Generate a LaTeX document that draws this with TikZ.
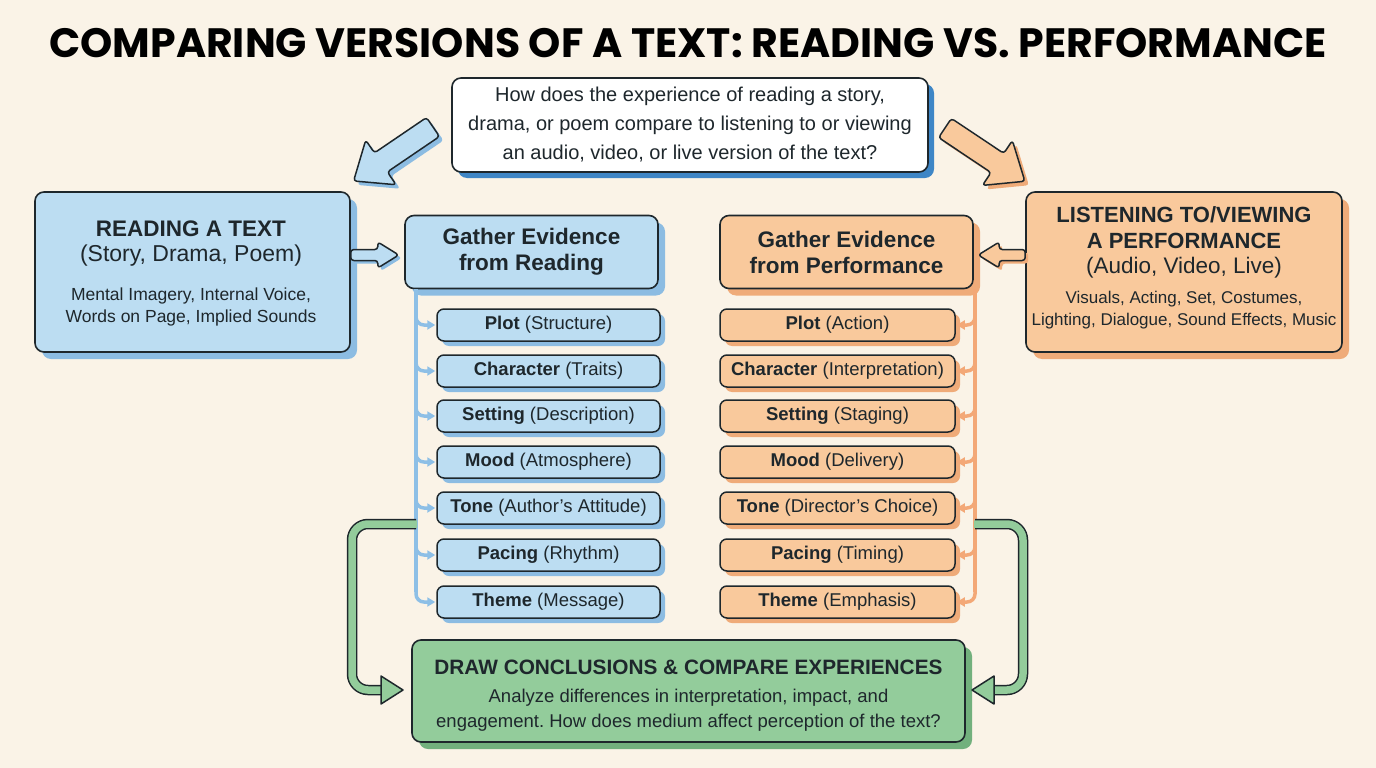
\documentclass[tikz,border=0pt]{standalone}
\usepackage{fontspec}
\setmainfont{Liberation Sans}
\newfontfamily\titlefont{Poppins}
\usetikzlibrary{shadows,arrows.meta}
\frenchspacing
\definecolor{bg}{HTML}{FAF3E7}
\definecolor{ink}{HTML}{1E272C}
\definecolor{bluefill}{HTML}{BCDDF2}
\definecolor{blueshadow}{HTML}{8CBCE2}
\definecolor{blueline}{HTML}{8DBFE6}
\definecolor{qshadow}{HTML}{3E86C6}
\definecolor{orfill}{HTML}{F9C99C}
\definecolor{orshadow}{HTML}{EFAB79}
\definecolor{orline}{HTML}{F3A877}
\definecolor{grfill}{HTML}{93CC9B}
\definecolor{grshadow}{HTML}{72B07D}
\tikzset{
  box/.style={draw=ink, line width=1.6pt, rounded corners=9pt, inner sep=0pt},
  bluebox/.style={box, fill=bluefill, drop shadow={shadow xshift=7pt, shadow yshift=-7pt, fill=blueshadow, opacity=1}},
  orbox/.style={box, fill=orfill, drop shadow={shadow xshift=7pt, shadow yshift=-7pt, fill=orshadow, opacity=1}},
  grbox/.style={box, fill=grfill, drop shadow={shadow xshift=7pt, shadow yshift=-7pt, fill=grshadow, opacity=1}},
  qbox/.style={box, fill=white, drop shadow={shadow xshift=6pt, shadow yshift=-6pt, fill=qshadow, opacity=1}},
  itemb/.style={draw=ink, line width=1.5pt, rounded corners=7pt, fill=bluefill, minimum width=223pt, minimum height=32pt, inner sep=0pt, font=\fontsize{18.5}{20}\selectfont, drop shadow={shadow xshift=5pt, shadow yshift=-5pt, fill=blueshadow, opacity=1}},
  itemo/.style={draw=ink, line width=1.5pt, rounded corners=7pt, fill=orfill, minimum width=235pt, minimum height=32pt, inner sep=0pt, font=\fontsize{18.5}{20}\selectfont, drop shadow={shadow xshift=5pt, shadow yshift=-5pt, fill=orshadow, opacity=1}},
  txt/.style={inner sep=0pt, align=center, text=ink},
  bline/.style={draw=blueline, line width=3.5pt, rounded corners=8pt},
  oline/.style={draw=orline, line width=3.5pt, rounded corners=8pt},
}
% block arrow: #1 start coordinate name, #2 angle, #3 length, #4 shaft half, #5 head half, #6 head length, #7 fill, #8 shadow colour, #9 shadow offset
\newcommand\blockarr[9]{%
  \begin{scope}[shift={([xshift=#9pt,yshift=-#9pt]#1)}, rotate=#2]
    \fill[#8, rounded corners=3pt] (0,-#4) -- (#3-#6,-#4) -- (#3-#6,-#5) -- (#3,0) -- (#3-#6,#5) -- (#3-#6,#4) -- (0,#4) -- cycle;
  \end{scope}
  \begin{scope}[shift={(#1)}, rotate=#2]
    \draw[draw=ink, line width=1.5pt, fill=#7, rounded corners=3pt, line join=round] (0,-#4) -- (#3-#6,-#4) -- (#3-#6,-#5) -- (#3,0) -- (#3-#6,#5) -- (#3-#6,#4) -- (0,#4) -- cycle;
  \end{scope}}
\begin{document}
\begin{tikzpicture}[x=1pt,y=-1pt]
\useasboundingbox[fill=bg] (0,0) rectangle (1376,768);

% title
\node[txt, text=black, font=\titlefont\bfseries\fontsize{41}{44}\selectfont] (title) at (688,43) {COMPARING VERSIONS OF A TEXT: READING VS. PERFORMANCE};

% question
\node[qbox, minimum width=476pt, minimum height=94pt] (q) at (690,125) {};
\node[txt, font=\fontsize{20}{29}\selectfont] (qt) at (q.center) {How does the experience of reading a story,\\drama, or poem compare to listening to or viewing\\an audio, video, or live version of the text?};

% left main box
\node[bluebox, minimum width=315pt, minimum height=160pt] (rd) at (192.5,272) {};
\node[txt, font=\bfseries\fontsize{22.5}{26}\selectfont] (rd1) at (191,229) {READING A TEXT};
\node[txt, font=\fontsize{23}{26}\selectfont] (rd2) at (191,256) {(Story, Drama, Poem)};
\node[txt, font=\fontsize{17.5}{22}\selectfont] (rd3) at (191,307) {Mental Imagery, Internal Voice,\\Words on Page, Implied Sounds};

% right main box
\node[orbox, minimum width=316pt, minimum height=160pt] (pf) at (1184,272) {};
\node[txt, font=\bfseries\fontsize{22}{26}\selectfont] (pf1) at (1184,228) {LISTENING TO/VIEWING\\A PERFORMANCE};
\node[txt, font=\fontsize{22.5}{26}\selectfont] (pf2) at (1184,268) {(Audio, Video, Live)};
\node[txt, font=\fontsize{17}{22}\selectfont] (pf3) at (1184,310) {Visuals, Acting, Set, Costumes,\\Lighting, Dialogue, Sound Effects, Music};

% diagonal block arrows (from question box to main boxes)
\coordinate (las) at (433,127);
\coordinate (ras) at (945,128);
\blockarr{las}{214.2}{96}{11.5}{27}{33}{bluefill}{blueshadow}{4}
\blockarr{ras}{-33.7}{96}{11.5}{27}{33}{orfill}{orshadow}{4}

% gather boxes
\node[bluebox, minimum width=253pt, minimum height=73pt, font=\bfseries\fontsize{22.5}{26}\selectfont, align=center, text=ink] (gr) at (531.5,252) {Gather Evidence\\from Reading};
\node[orbox, minimum width=253pt, minimum height=73pt, font=\bfseries\fontsize{22.5}{26}\selectfont, align=center, text=ink] (gp) at (846.5,252) {Gather Evidence\\from Performance};

% horizontal block arrows
\coordinate (has) at (rd.east |- 0,255);
\coordinate (hbs) at (pf.west |- 0,255);
\blockarr{has}{0}{48}{5.5}{13}{21}{bluefill}{blueshadow}{3}
\blockarr{hbs}{180}{47}{5.5}{13}{21}{orfill}{orshadow}{3}

% trunks
\coordinate (bt) at (416,289);
\coordinate (ot) at (975,289);
\draw[bline, rounded corners=0pt] (bt) -- (416,592);
\draw[oline, rounded corners=0pt] (ot) -- (975,592);

% green connectors (under items)
\coordinate (gl) at (416,524);
\coordinate (gr2) at (975,524);
\coordinate (glh) at (385,690);
\coordinate (grh) at (990,690);
\draw[draw=ink, line width=10.5pt, rounded corners=16pt] (gl) -- (352,524) -- (352,690) -- (glh);
\draw[draw=grfill, line width=7.5pt, rounded corners=16pt] ([xshift=1pt]gl) -- (352,524) -- (352,690) -- ([xshift=2pt]glh);
\draw[draw=ink, line width=10.5pt, rounded corners=16pt] (gr2) -- (1023,524) -- (1023,690) -- (grh);
\draw[draw=grfill, line width=7.5pt, rounded corners=16pt] ([xshift=-1pt]gr2) -- (1023,524) -- (1023,690) -- ([xshift=-2pt]grh);

% items
\foreach \i/\y/\bb/\br/\ob/\orr in {
 1/325/Plot/(Structure)/Plot/(Action),
 2/371/Character/(Traits)/Character/(Interpretation),
 3/416/Setting/(Description)/Setting/(Staging),
 4/462/Mood/(Atmosphere)/Mood/(Delivery),
 5/508/Tone/(Author’s Attitude)/Tone/(Director’s Choice),
 6/555/Pacing/(Rhythm)/Pacing/(Timing),
 7/602/Theme/(Message)/Theme/(Emphasis)}{
  \node[itemb, text=ink] (b\i) at (548.5,\y) {\textbf{\bb} \br};
  \node[itemo, text=ink] (o\i) at (837.5,\y) {\textbf{\ob} \orr};
  \draw[bline, -{Triangle[length=8pt,width=9pt]}] (416,\y-14) |- ([xshift=-1pt]b\i.west);
  \draw[oline, -{Triangle[length=8pt,width=9pt]}] (975,\y-14) |- ([xshift=1pt]o\i.east);
}

% green box
\node[grbox, minimum width=553pt, minimum height=102pt] (dc) at (688.5,691) {};
\node[txt, font=\bfseries\fontsize{20.8}{24}\selectfont] (dc1) at (dc.center |- 0,667) {DRAW CONCLUSIONS \& COMPARE EXPERIENCES};
\node[txt, font=\fontsize{18.5}{25}\selectfont] (dc2) at (dc.center |- 0,710) {Analyze differences in interpretation, impact, and\\engagement. How does medium affect perception of the text?};

% green arrow heads
\draw[draw=ink, line width=1.5pt, fill=grfill, line join=round] ([xshift=-4pt,yshift=-14pt]glh) -- ([xshift=18pt]glh) -- ([xshift=-4pt,yshift=14pt]glh) -- cycle;
\draw[draw=ink, line width=1.5pt, fill=grfill, line join=round] ([xshift=4pt,yshift=-14pt]grh) -- ([xshift=-18pt]grh) -- ([xshift=4pt,yshift=14pt]grh) -- cycle;
\end{tikzpicture}
\end{document}
